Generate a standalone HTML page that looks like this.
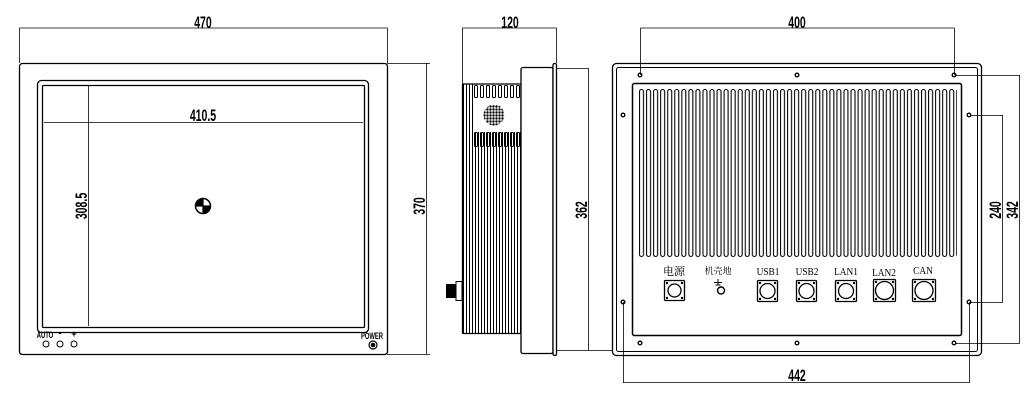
<!DOCTYPE html>
<html><head><meta charset="utf-8"><style>
html,body{margin:0;padding:0;background:#fff;}
svg{display:block}
text{font-family:"Liberation Sans","Noto Sans CJK SC",sans-serif;fill:#000}
.d{font-weight:bold;font-size:17px}
</style></head><body>
<svg width="1036" height="411" viewBox="0 0 1036 411" xmlns="http://www.w3.org/2000/svg">
<defs>
<pattern id="slots" x="639" y="0" width="7.05" height="411" patternUnits="userSpaceOnUse">
<rect x="0.5" y="89.5" width="4" height="167" rx="2" fill="none" stroke="#000" stroke-width="1.1"/>
</pattern>
<pattern id="fins" x="462" y="0" width="3" height="411" patternUnits="userSpaceOnUse">
<line x1="1.5" y1="0" x2="1.5" y2="411" stroke="#000" stroke-width="1"/>
</pattern>
<pattern id="dots" x="0" y="0" width="3" height="3" patternUnits="userSpaceOnUse">
<circle cx="1.5" cy="1.5" r="1.2" fill="#000"/>
</pattern>
</defs>
<g fill="none" stroke="#000">
<!-- FRONT VIEW -->
<line x1="19.5" y1="28" x2="387.5" y2="28" stroke-width="0.8"/>
<line x1="19.5" y1="28" x2="19.5" y2="63" stroke-width="0.8"/>
<line x1="387.5" y1="28" x2="387.5" y2="63" stroke-width="0.8"/>
<rect x="19.5" y="63.5" width="368" height="291" rx="3" stroke-width="1.3"/>
<rect x="37.5" y="80.5" width="331" height="252" rx="4" stroke-width="1.3"/>
<rect x="42.5" y="85.5" width="322" height="242" rx="1" stroke-width="1.3"/>
<line x1="44" y1="122.5" x2="363" y2="122.5" stroke-width="0.8"/>
<line x1="88.5" y1="86" x2="88.5" y2="326" stroke-width="0.8"/>
<circle cx="203" cy="206" r="7.5" stroke-width="1.5"/>
<line x1="195.5" y1="206" x2="210.5" y2="206" stroke-width="1.2"/>
<line x1="203" y1="198.5" x2="203" y2="213.5" stroke-width="1.2"/>
<path d="M203 206 L203 198.5 A7.5 7.5 0 0 0 195.5 206 Z M203 206 L210.5 206 A7.5 7.5 0 0 1 203 213.5 Z" fill="#000" stroke="none"/>
<line x1="387" y1="63.5" x2="430" y2="63.5" stroke-width="0.8"/>
<line x1="387" y1="354.5" x2="430" y2="354.5" stroke-width="0.8"/>
<line x1="426.5" y1="63" x2="426.5" y2="354" stroke-width="0.8"/>
<circle cx="46" cy="344" r="3" stroke-width="1"/>
<circle cx="60" cy="344" r="3" stroke-width="1"/>
<circle cx="74" cy="344" r="3" stroke-width="1"/>
<circle cx="373" cy="345" r="4" stroke-width="1.2"/>
<circle cx="373" cy="345" r="1.8" fill="#000"/>
<!-- SIDE VIEW -->
<line x1="462.5" y1="28" x2="556.5" y2="28" stroke-width="0.8"/>
<line x1="462.5" y1="28" x2="462.5" y2="84" stroke-width="0.8"/>
<line x1="556.5" y1="28" x2="556.5" y2="63" stroke-width="0.8"/>
<rect x="462" y="84" width="59" height="250" fill="url(#fins)" stroke="none"/>
<rect x="474" y="84" width="47" height="48" fill="#fff" stroke="none"/>
<g stroke-width="1">
<rect x="474.5" y="85.5" width="3" height="12" rx="1"/><rect x="480.5" y="85.5" width="3" height="12" rx="1"/><rect x="486.5" y="85.5" width="3" height="12" rx="1"/><rect x="492.5" y="85.5" width="3" height="12" rx="1"/><rect x="498.5" y="85.5" width="3" height="12" rx="1"/><rect x="504.5" y="85.5" width="3" height="12" rx="1"/><rect x="510.5" y="85.5" width="3" height="12" rx="1"/><rect x="516.5" y="85.5" width="3" height="12" rx="1"/>
<rect x="474.5" y="132.5" width="3" height="14" rx="1"/><rect x="480.5" y="132.5" width="3" height="14" rx="1"/><rect x="486.5" y="132.5" width="3" height="14" rx="1"/><rect x="492.5" y="132.5" width="3" height="14" rx="1"/><rect x="498.5" y="132.5" width="3" height="14" rx="1"/><rect x="504.5" y="132.5" width="3" height="14" rx="1"/><rect x="510.5" y="132.5" width="3" height="14" rx="1"/><rect x="516.5" y="132.5" width="3" height="14" rx="1"/>
</g>
<circle cx="494" cy="115" r="10.5" fill="url(#dots)" stroke="none"/>
<rect x="462.5" y="84" width="58.5" height="249.5" rx="1" stroke-width="1.3"/>
<rect x="521" y="67.5" width="32" height="286" rx="2" fill="#fff" stroke-width="1.3"/>
<rect x="553" y="63.5" width="3.5" height="292" rx="1.5" fill="#fff" stroke-width="1.3"/>
<rect x="446" y="284" width="10" height="14" fill="#000" stroke="none"/>
<rect x="456" y="281.5" width="6" height="19" fill="#fff" stroke-width="1"/>
<line x1="556" y1="68.5" x2="588" y2="68.5" stroke-width="0.8"/>
<line x1="556" y1="350.5" x2="612" y2="350.5" stroke-width="0.8"/>
<line x1="588.5" y1="68" x2="588.5" y2="350" stroke-width="0.8"/>
<!-- REAR VIEW -->
<line x1="640.5" y1="28" x2="954.5" y2="28" stroke-width="0.8"/>
<line x1="640.5" y1="28" x2="640.5" y2="75" stroke-width="0.8"/>
<line x1="954.5" y1="28" x2="954.5" y2="75" stroke-width="0.8"/>
<rect x="612.5" y="63.5" width="369" height="292" rx="4" stroke-width="1.3"/>
<rect x="616.5" y="67.5" width="361" height="284" rx="2" stroke-width="1"/>
<rect x="632.5" y="83.5" width="329" height="252" rx="2" stroke-width="1.5"/>
<rect x="639" y="85" width="318" height="175" fill="url(#slots)" stroke="none"/>
<g stroke-width="1.4">
<circle cx="640" cy="75" r="1.8"/><circle cx="797" cy="75" r="1.8"/><circle cx="954" cy="75" r="1.8"/>
<circle cx="623" cy="115" r="1.8"/><circle cx="969" cy="115" r="1.8"/>
<circle cx="623" cy="302" r="1.8"/><circle cx="969" cy="302" r="1.8"/>
<circle cx="640" cy="343" r="1.8"/><circle cx="797" cy="343" r="1.8"/><circle cx="954" cy="343" r="1.8"/>
</g>
<g stroke-width="0.8">
<line x1="956" y1="75.5" x2="1020" y2="75.5"/><line x1="956" y1="343.5" x2="1020" y2="343.5"/>
<line x1="1019.5" y1="75" x2="1019.5" y2="343"/>
<line x1="971" y1="115.5" x2="1003" y2="115.5"/><line x1="971" y1="302.5" x2="1003" y2="302.5"/>
<line x1="1002.5" y1="115" x2="1002.5" y2="302"/>
<line x1="623.5" y1="302" x2="623.5" y2="383"/><line x1="969.5" y1="302" x2="969.5" y2="383"/>
<line x1="623" y1="382.5" x2="969" y2="382.5"/>
</g>
<g stroke-width="1.3">
<rect x="664.5" y="280.5" width="20" height="20" rx="1"/><circle cx="674.5" cy="290.5" r="6.5"/>
<rect x="757.5" y="280.5" width="20" height="21" rx="1"/><circle cx="767.5" cy="291" r="7.5"/>
<rect x="796.5" y="280.5" width="20" height="21" rx="1"/><circle cx="806.5" cy="291" r="7.5"/>
<rect x="835.5" y="280.5" width="21" height="21" rx="1"/><circle cx="846" cy="291" r="7.5"/>
<rect x="873.5" y="279.5" width="22" height="22" rx="1"/><circle cx="884.5" cy="290.5" r="9"/>
<rect x="912.5" y="279.5" width="23" height="22" rx="1"/><circle cx="924" cy="290.5" r="9"/>
</g>
<g fill="#000" stroke="none">
<circle cx="667" cy="283" r="1.2"/><circle cx="682" cy="283" r="1.2"/><circle cx="667" cy="298" r="1.2"/><circle cx="682" cy="298" r="1.2"/>
<circle cx="760" cy="283" r="1.2"/><circle cx="775" cy="283" r="1.2"/><circle cx="760" cy="299" r="1.2"/><circle cx="775" cy="299" r="1.2"/>
<circle cx="799" cy="283" r="1.2"/><circle cx="814" cy="283" r="1.2"/><circle cx="799" cy="299" r="1.2"/><circle cx="814" cy="299" r="1.2"/>
<circle cx="838" cy="283" r="1.2"/><circle cx="854" cy="283" r="1.2"/><circle cx="838" cy="299" r="1.2"/><circle cx="854" cy="299" r="1.2"/>
<circle cx="876" cy="282" r="1.2"/><circle cx="893" cy="282" r="1.2"/><circle cx="876" cy="299" r="1.2"/><circle cx="893" cy="299" r="1.2"/>
<circle cx="915" cy="282" r="1.2"/><circle cx="933" cy="282" r="1.2"/><circle cx="915" cy="299" r="1.2"/><circle cx="933" cy="299" r="1.2"/>
</g>
<line x1="718" y1="279" x2="718" y2="285" stroke-width="1"/>
<line x1="714" y1="282.5" x2="722" y2="282.5" stroke-width="1"/>
<line x1="715.5" y1="285" x2="720.5" y2="285" stroke-width="1"/>
<circle cx="721" cy="290.5" r="3.5" stroke-width="1.4"/>
</g>
<g class="d" text-anchor="middle">
<text x="203" y="28" transform="translate(203 0) scale(0.62 1) translate(-203 0)">470</text>
<text x="203" y="121" transform="translate(203 0) scale(0.62 1) translate(-203 0)">410.5</text>
<text x="510" y="28" transform="translate(510 0) scale(0.62 1) translate(-510 0)">120</text>
<text x="797" y="28" transform="translate(797 0) scale(0.62 1) translate(-797 0)">400</text>
<text x="797" y="381" transform="translate(797 0) scale(0.62 1) translate(-797 0)">442</text>
<text transform="translate(87 206) rotate(-90) scale(0.62 1)" x="0" y="0">308.5</text>
<text transform="translate(425 206) rotate(-90) scale(0.62 1)" x="0" y="0">370</text>
<text transform="translate(587 210) rotate(-90) scale(0.62 1)" x="0" y="0">362</text>
<text transform="translate(1001 210) rotate(-90) scale(0.62 1)" x="0" y="0">240</text>
<text transform="translate(1018 210) rotate(-90) scale(0.62 1)" x="0" y="0">342</text>
</g>
<g font-size="9" font-weight="bold" text-anchor="middle">
<text x="45" y="338" transform="translate(45 0) scale(0.65 1) translate(-45 0)">AUTO</text>
<text x="60" y="336">-</text>
<text x="74" y="337">+</text>
<text x="372" y="339" transform="translate(372 0) scale(0.65 1) translate(-372 0)">POWER</text>
</g>
<g font-size="11" text-anchor="middle">
<text x="674" y="275" style="font-family:'Liberation Serif','Noto Serif CJK SC',serif">电源</text>
<text x="718" y="274" font-size="9" style="font-family:'Liberation Serif','Noto Serif CJK SC',serif">机壳地</text>
<text x="768" y="275" style="font-family:'Liberation Serif',serif" transform="translate(768 0) scale(0.85 1) translate(-768 0)">USB1</text>
<text x="807" y="275" style="font-family:'Liberation Serif',serif" transform="translate(807 0) scale(0.85 1) translate(-807 0)">USB2</text>
<text x="846" y="275" style="font-family:'Liberation Serif',serif" transform="translate(846 0) scale(0.85 1) translate(-846 0)">LAN1</text>
<text x="884" y="276" style="font-family:'Liberation Serif',serif" transform="translate(884 0) scale(0.85 1) translate(-884 0)">LAN2</text>
<text x="923" y="274" style="font-family:'Liberation Serif',serif" transform="translate(923 0) scale(0.85 1) translate(-923 0)">CAN</text>
</g>
</svg>
</body></html>
